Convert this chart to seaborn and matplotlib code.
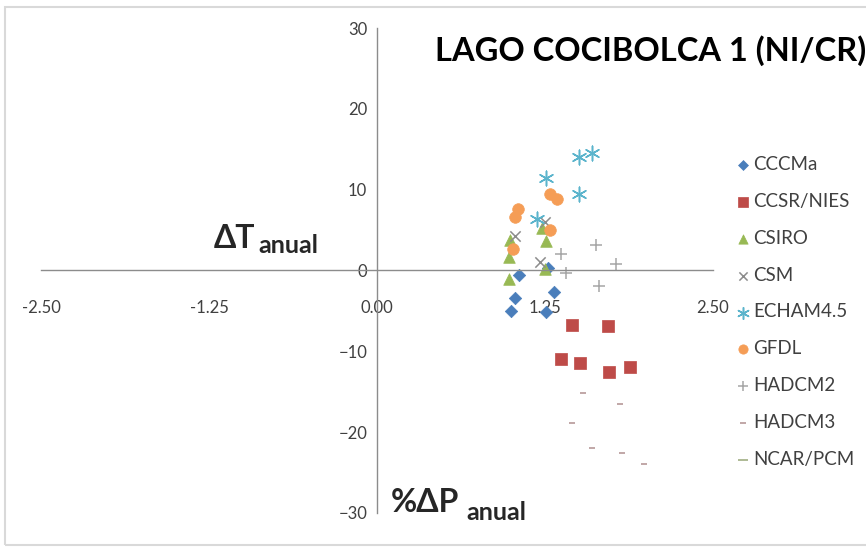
import matplotlib
matplotlib.use("Agg")
import matplotlib.pyplot as plt
import seaborn as sns
from matplotlib.patches import Rectangle


# %dP anual (x) and dT anual (y) for each model
cccma_x = [1.06, 1.27, 1.32, 1.03, 1.00, 1.26]
cccma_y = [-0.5, 0.3, -2.7, -3.4, -5.0, -5.1]

ccsr_x = [1.45, 1.72, 1.37, 1.51, 1.73, 1.88]
ccsr_y = [-6.8, -6.9, -11.0, -11.5, -12.6, -11.9]

csiro_x = [0.99, 0.98, 1.26, 1.25, 0.98, 1.23]
csiro_y = [3.8, 1.7, 3.6, 0.2, -1.0, 5.3]

csm_x = [1.03, 1.25, 1.21]
csm_y = [4.3, 6.0, 1.0]

echam_x = [1.50, 1.60, 1.26, 1.50, 1.19]
echam_y = [14.0, 14.5, 11.4, 9.5, 6.4]

gfdl_x = [1.29, 1.34, 1.05, 1.03, 1.29, 1.01]
gfdl_y = [9.5, 8.9, 7.6, 6.6, 5.0, 2.7]

hadcm2_x = [1.63, 1.37, 1.78, 1.41, 1.65]
hadcm2_y = [3.1, 2.1, 0.8, -0.3, -1.9]

hadcm3_x = [1.53, 1.81, 1.45, 1.60, 1.82, 1.99]
hadcm3_y = [-15.2, -16.5, -18.9, -21.9, -22.6, -24.0]

ncar_x = []
ncar_y = []

x_ticks = [-2.50, -1.25, 0.00, 1.25, 2.50]
y_ticks = [-30, -20, -10, 0, 10, 20, 30]

series = [
    ("CCCMa", cccma_x, cccma_y, "D", "#4A7EBB", 40, True),
    ("CCSR/NIES", ccsr_x, ccsr_y, "s", "#BE4B48", 80, True),
    ("CSIRO", csiro_x, csiro_y, "^", "#98B954", 70, True),
    ("CSM", csm_x, csm_y, "x", "#8C8C8C", 55, False),
    ("ECHAM4.5", echam_x, echam_y, (6, 2, 0), "#5BB4CC", 110, False),
    ("GFDL", gfdl_x, gfdl_y, "o", "#F59D56", 70, True),
    ("HADCM2", hadcm2_x, hadcm2_y, "+", "#A6A6A6", 70, False),
    ("HADCM3", hadcm3_x, hadcm3_y, "_", "#B09090", 25, False),
    ("NCAR/PCM", ncar_x, ncar_y, "_", "#A8B48C", 70, False),
]

sns.set_theme(style="white")
plt.rcParams["font.family"] = ["Lato", "DejaVu Sans"]

fig = plt.figure(figsize=(8.66, 5.47), dpi=100)
ax = fig.add_axes([0.0473, 0.0622, 0.776, 0.8866])

for name, xs, ys, marker, color, size, filled in series:
    if len(xs) == 0:
        ax.scatter([], [], marker=marker, color=color, s=size,
                   linewidths=1.3, label=name)
        continue
    if filled:
        sns.scatterplot(x=xs, y=ys, marker=marker, color=color, s=size,
                        edgecolor=color, linewidth=0.5, ax=ax, label=name)
    else:
        sns.scatterplot(x=xs, y=ys, marker=marker, color=color, s=size,
                        linewidth=1.1, ax=ax, label=name)

ax.set_xlim(-2.5, 2.5)
ax.set_ylim(-30, 30)
ax.set_xticks(x_ticks)
ax.set_xticklabels([f"{v:.2f}" for v in x_ticks])
ax.set_yticks(y_ticks)

ax.spines["left"].set_position("zero")
ax.spines["bottom"].set_position("zero")
ax.spines["top"].set_visible(False)
ax.spines["right"].set_visible(False)
for side in ["left", "bottom"]:
    ax.spines[side].set_color("#8C8C8C")
    ax.spines[side].set_linewidth(1.0)

ax.tick_params(axis="y", direction="out", length=4, width=0.8,
               color="#8C8C8C", pad=3, labelsize=12, labelcolor="#404040")
ax.tick_params(axis="x", direction="out", length=3, width=0.8,
               color="#D0D0D0", pad=18, labelsize=12, labelcolor="#404040")
ax.set_xlabel("")
ax.set_ylabel("")
ax.patch.set_alpha(0)

leg = ax.legend(loc="upper left", bbox_to_anchor=(0.839, 0.732),
                bbox_transform=fig.transFigure, frameon=False,
                fontsize=13.5, labelspacing=1.06, handletextpad=0.1,
                handlelength=0.8, borderpad=0, markerscale=0.8)
for t in leg.get_texts():
    t.set_color("#404040")

W, H = 866, 547
fig.text(435 / W, 1 - 61 / H, "LAGO COCIBOLCA 1 (NI/CR)", fontsize=23.5,
         fontweight="bold", color="black", ha="left", va="baseline")
fig.text(214 / W, 1 - 248 / H, "\u0394T", fontsize=23, fontweight="bold",
         ha="left", va="baseline")
fig.text(258 / W, 1 - 253 / H, "anual", fontsize=18, fontweight="bold",
         ha="left", va="baseline")
fig.text(391 / W, 1 - 512 / H, "%\u0394P", fontsize=23, fontweight="bold",
         ha="left", va="baseline")
fig.text(466 / W, 1 - 520 / H, "anual", fontsize=18, fontweight="bold",
         ha="left", va="baseline")

fig.patches.append(Rectangle((5 / W, 2 / H), 1.0, 1 - 9 / H,
                             transform=fig.transFigure, fill=False,
                             edgecolor="#D9D9D9", linewidth=1.5))

fig.savefig("out.png", dpi=100)
